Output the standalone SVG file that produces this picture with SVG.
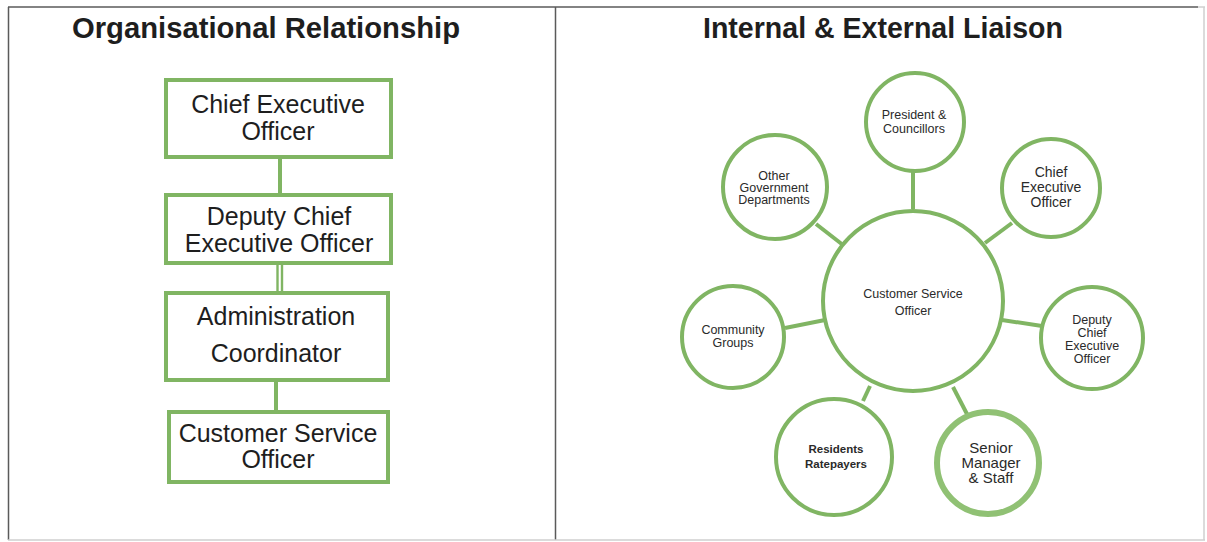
<svg xmlns="http://www.w3.org/2000/svg" width="1207" height="542" viewBox="0 0 1207 542">
  <style>
    .frame { stroke: #5a5a5a; stroke-width: 1.5; fill: none; }
    .frame-light { stroke: #cfcfcf; stroke-width: 1.5; fill: none; }
    .title { font-family: "Liberation Sans", Arial, sans-serif; font-weight: bold; font-size: 29px; fill: #1e1e1e; text-anchor: middle; }
    .box { fill: #ffffff; stroke: #80b563; stroke-width: 4; }
    .box-text { font-family: "Liberation Sans", Arial, sans-serif; font-size: 25px; fill: #1e1e1e; text-anchor: middle; }
    .link { stroke: #80b563; stroke-width: 4; fill: none; stroke-linecap: butt; }
    .bubble { fill: #ffffff; stroke: #80b563; stroke-width: 4; }
    .bubble-strong { fill: #ffffff; stroke: #90c174; stroke-width: 6; }
    .small { font-family: "Liberation Sans", Arial, sans-serif; font-size: 12.5px; fill: #2a2a2a; text-anchor: middle; }
  </style>

  <rect width="1207" height="542" fill="#ffffff"/>

  <!-- table frame -->
  <g id="frame">
    <line class="frame" x1="8" y1="7" x2="1198" y2="7"/>
    <line class="frame-light" x1="1198" y1="7" x2="1205" y2="7"/>
    <line class="frame" x1="8.5" y1="7" x2="8.5" y2="540"/>
    <line class="frame" x1="555.5" y1="7" x2="555.5" y2="540"/>
    <line class="frame-light" x1="1204" y1="7" x2="1204" y2="540"/>
    <line class="frame-light" x1="8" y1="540" x2="1205" y2="540"/>
  </g>

  <text class="title" x="266" y="38" textLength="388" lengthAdjust="spacingAndGlyphs">Organisational Relationship</text>
  <text class="title" x="883" y="38" textLength="360" lengthAdjust="spacingAndGlyphs">Internal &amp; External Liaison</text>

  <!-- hierarchy connectors -->
  <g id="org-connectors">
    <line class="link" x1="280" y1="157" x2="280" y2="195"/>
    <line class="link" x1="277.5" y1="263" x2="277.5" y2="293" style="stroke-width:2.4"/>
    <line class="link" x1="282" y1="263" x2="282" y2="293" style="stroke-width:2.4"/>
    <line class="link" x1="276" y1="380" x2="276" y2="412"/>
  </g>

  <g id="org-ceo">
    <rect class="box" x="166" y="80" width="225" height="77"/>
    <text class="box-text" x="278" y="113">Chief Executive</text>
    <text class="box-text" x="278" y="140">Officer</text>
  </g>
  <g id="org-deputy">
    <rect class="box" x="166" y="195" width="225" height="68"/>
    <text class="box-text" x="279" y="225">Deputy Chief</text>
    <text class="box-text" x="279" y="252">Executive Officer</text>
  </g>
  <g id="org-admin">
    <rect class="box" x="166" y="293" width="222" height="87"/>
    <text class="box-text" x="276" y="325">Administration</text>
    <text class="box-text" x="276" y="362">Coordinator</text>
  </g>
  <g id="org-cso">
    <rect class="box" x="169" y="412" width="219" height="70"/>
    <text class="box-text" x="278" y="442">Customer Service</text>
    <text class="box-text" x="278" y="468">Officer</text>
  </g>

  <!-- liaison spokes -->
  <g id="liaison-connectors">
    <line class="link" x1="913" y1="168" x2="913" y2="209"/>
    <line class="link" x1="816" y1="224" x2="843" y2="245"/>
    <line class="link" x1="1012" y1="223" x2="985" y2="243"/>
    <line class="link" x1="1002" y1="320" x2="1042" y2="326"/>
    <line class="link" x1="785" y1="328" x2="825" y2="320"/>
    <line class="link" x1="863" y1="401" x2="870" y2="386"/>
    <line class="link" x1="953" y1="387" x2="968" y2="416"/>
  </g>

  <g id="liaison-cso">
    <circle class="bubble" cx="913" cy="301" r="90"/>
    <text class="small" x="913" y="298">Customer Service</text>
    <text class="small" x="913" y="315">Officer</text>
  </g>
  <g id="liaison-president">
    <circle class="bubble" cx="915" cy="122" r="49"/>
    <text class="small" x="914" y="119">President &amp;</text>
    <text class="small" x="914" y="133">Councillors</text>
  </g>
  <g id="liaison-govt">
    <circle class="bubble" cx="775" cy="187" r="52"/>
    <text class="small" x="774" y="180">Other</text>
    <text class="small" x="774" y="192">Government</text>
    <text class="small" x="774" y="204">Departments</text>
  </g>
  <g id="liaison-ceo">
    <circle class="bubble" cx="1051" cy="188" r="49"/>
    <text class="small" x="1051" y="177" style="font-size:14px">Chief</text>
    <text class="small" x="1051" y="192" style="font-size:14px">Executive</text>
    <text class="small" x="1051" y="207" style="font-size:14px">Officer</text>
  </g>
  <g id="liaison-deputy">
    <circle class="bubble" cx="1092" cy="338" r="51"/>
    <text class="small" x="1092" y="324">Deputy</text>
    <text class="small" x="1092" y="337">Chief</text>
    <text class="small" x="1092" y="350">Executive</text>
    <text class="small" x="1092" y="363">Officer</text>
  </g>
  <g id="liaison-community">
    <circle class="bubble" cx="733" cy="337" r="51"/>
    <text class="small" x="733" y="334">Community</text>
    <text class="small" x="733" y="347">Groups</text>
  </g>
  <g id="liaison-residents">
    <circle class="bubble" cx="834" cy="457" r="58"/>
    <text class="small" x="836" y="453" style="font-weight:bold;font-size:11.5px">Residents</text>
    <text class="small" x="836" y="468" style="font-weight:bold;font-size:11.5px">Ratepayers</text>
  </g>
  <g id="liaison-senior">
    <circle class="bubble-strong" cx="988" cy="463" r="51"/>
    <text class="small" x="991" y="453" style="font-size:15px">Senior</text>
    <text class="small" x="991" y="468" style="font-size:15px">Manager</text>
    <text class="small" x="991" y="483" style="font-size:15px">&amp; Staff</text>
  </g>
</svg>
